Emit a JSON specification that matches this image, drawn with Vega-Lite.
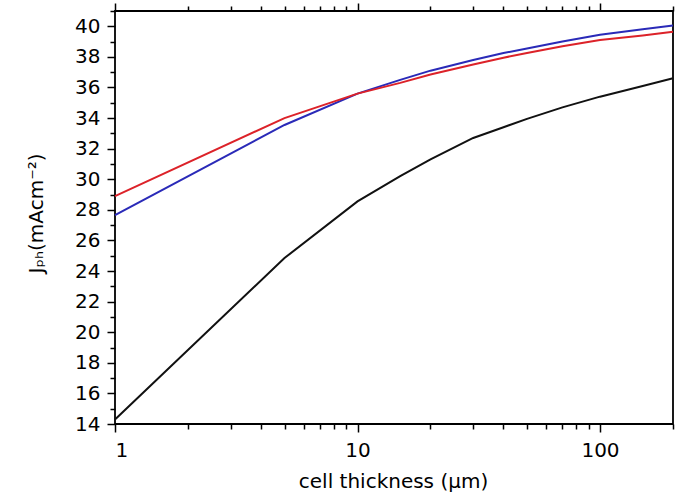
{
  "$schema": "https://vega.github.io/schema/vega-lite/v6.json",
  "width": 558,
  "height": 413,
  "autosize": "none",
  "padding": {"left": 115, "top": 11, "right": 13, "bottom": 70},
  "background": "white",
  "config": {
    "view": {"stroke": "#000", "strokeWidth": 1.8},
    "axis": {
      "domain": false,
      "grid": false,
      "tickColor": "#000",
      "tickWidth": 1.5,
      "labelFont": "DejaVu Sans",
      "labelFontSize": 20,
      "labelColor": "#000",
      "titleFont": "DejaVu Sans",
      "titleFontSize": 20,
      "titleFontWeight": "normal",
      "titleColor": "#000"
    }
  },
  "data": {
    "values": [
      {"t": 1, "J": 14.3, "s": "black"},
      {"t": 5, "J": 24.85, "s": "black"},
      {"t": 10, "J": 28.55, "s": "black"},
      {"t": 15, "J": 30.2, "s": "black"},
      {"t": 20, "J": 31.3, "s": "black"},
      {"t": 30, "J": 32.7, "s": "black"},
      {"t": 40, "J": 33.4, "s": "black"},
      {"t": 50, "J": 33.95, "s": "black"},
      {"t": 70, "J": 34.7, "s": "black"},
      {"t": 100, "J": 35.4, "s": "black"},
      {"t": 150, "J": 36.1, "s": "black"},
      {"t": 200, "J": 36.6, "s": "black"},
      {"t": 1, "J": 27.65, "s": "blue"},
      {"t": 5, "J": 33.55, "s": "blue"},
      {"t": 10, "J": 35.6, "s": "blue"},
      {"t": 15, "J": 36.5, "s": "blue"},
      {"t": 20, "J": 37.1, "s": "blue"},
      {"t": 30, "J": 37.8, "s": "blue"},
      {"t": 40, "J": 38.25, "s": "blue"},
      {"t": 50, "J": 38.55, "s": "blue"},
      {"t": 70, "J": 39.0, "s": "blue"},
      {"t": 100, "J": 39.45, "s": "blue"},
      {"t": 150, "J": 39.8, "s": "blue"},
      {"t": 200, "J": 40.05, "s": "blue"},
      {"t": 1, "J": 28.9, "s": "red"},
      {"t": 5, "J": 34.0, "s": "red"},
      {"t": 10, "J": 35.6, "s": "red"},
      {"t": 15, "J": 36.3, "s": "red"},
      {"t": 20, "J": 36.85, "s": "red"},
      {"t": 30, "J": 37.5, "s": "red"},
      {"t": 40, "J": 37.95, "s": "red"},
      {"t": 50, "J": 38.25, "s": "red"},
      {"t": 70, "J": 38.7, "s": "red"},
      {"t": 100, "J": 39.1, "s": "red"},
      {"t": 150, "J": 39.4, "s": "red"},
      {"t": 200, "J": 39.65, "s": "red"}
    ]
  },
  "resolve": {"axis": {"x": "independent", "y": "independent"}},
  "layer": [
    {
      "mark": {"type": "line", "strokeWidth": 2},
      "encoding": {
        "x": {
          "field": "t", "type": "quantitative",
          "scale": {"type": "log", "domain": [1, 200], "nice": false},
          "axis": {
            "orient": "bottom", "values": [1, 10, 100], "format": "d",
            "tickSize": 8, "labelPadding": 8,
            "title": "cell thickness (μm)",
            "titleX": 278, "titleY": 63, "titleAlign": "center", "titleBaseline": "alphabetic"
          }
        },
        "y": {
          "field": "J", "type": "quantitative",
          "scale": {"domain": [14, 41], "nice": false, "zero": false},
          "axis": {
            "orient": "left",
            "values": [14, 16, 18, 20, 22, 24, 26, 28, 30, 32, 34, 36, 38, 40],
            "tickSize": 8, "labelPadding": 7,
            "title": "Jₚₕ(mAcm⁻²)",
            "titleX": -73, "titleY": 202, "titleAngle": 270, "titleAlign": "center", "titleBaseline": "alphabetic"
          }
        },
        "color": {
          "field": "s", "type": "nominal",
          "scale": {"domain": ["black", "blue", "red"], "range": ["#111111", "#2a2ab8", "#dc2229"]},
          "legend": null
        }
      }
    },
    {
      "mark": {"type": "line", "opacity": 0},
      "encoding": {
        "x": {
          "field": "t", "type": "quantitative",
          "scale": {"type": "log", "domain": [1, 200], "nice": false},
          "axis": {
            "orient": "bottom", "values": [2, 3, 4, 5, 6, 7, 8, 9, 20, 30, 40, 50, 60, 70, 80, 90, 200],
            "tickSize": 5, "labels": false, "title": null
          }
        },
        "y": {
          "field": "J", "type": "quantitative",
          "axis": {
            "orient": "left",
            "values": [15, 17, 19, 21, 23, 25, 27, 29, 31, 33, 35, 37, 39, 41],
            "tickSize": 5, "labels": false, "title": null
          }
        },
        "detail": {"field": "s", "type": "nominal"}
      }
    },
    {
      "mark": {"type": "line", "opacity": 0},
      "encoding": {
        "x": {
          "field": "t", "type": "quantitative",
          "scale": {"type": "log", "domain": [1, 200], "nice": false},
          "axis": {
            "orient": "top", "values": [1, 10, 100],
            "tickSize": 8, "labels": false, "title": null
          }
        },
        "y": {"field": "J", "type": "quantitative", "axis": null},
        "detail": {"field": "s", "type": "nominal"}
      }
    },
    {
      "mark": {"type": "line", "opacity": 0},
      "encoding": {
        "x": {
          "field": "t", "type": "quantitative",
          "scale": {"type": "log", "domain": [1, 200], "nice": false},
          "axis": {
            "orient": "top", "values": [2, 3, 4, 5, 6, 7, 8, 9, 20, 30, 40, 50, 60, 70, 80, 90, 200],
            "tickSize": 5, "labels": false, "title": null
          }
        },
        "y": {"field": "J", "type": "quantitative", "axis": null},
        "detail": {"field": "s", "type": "nominal"}
      }
    }
  ]
}
